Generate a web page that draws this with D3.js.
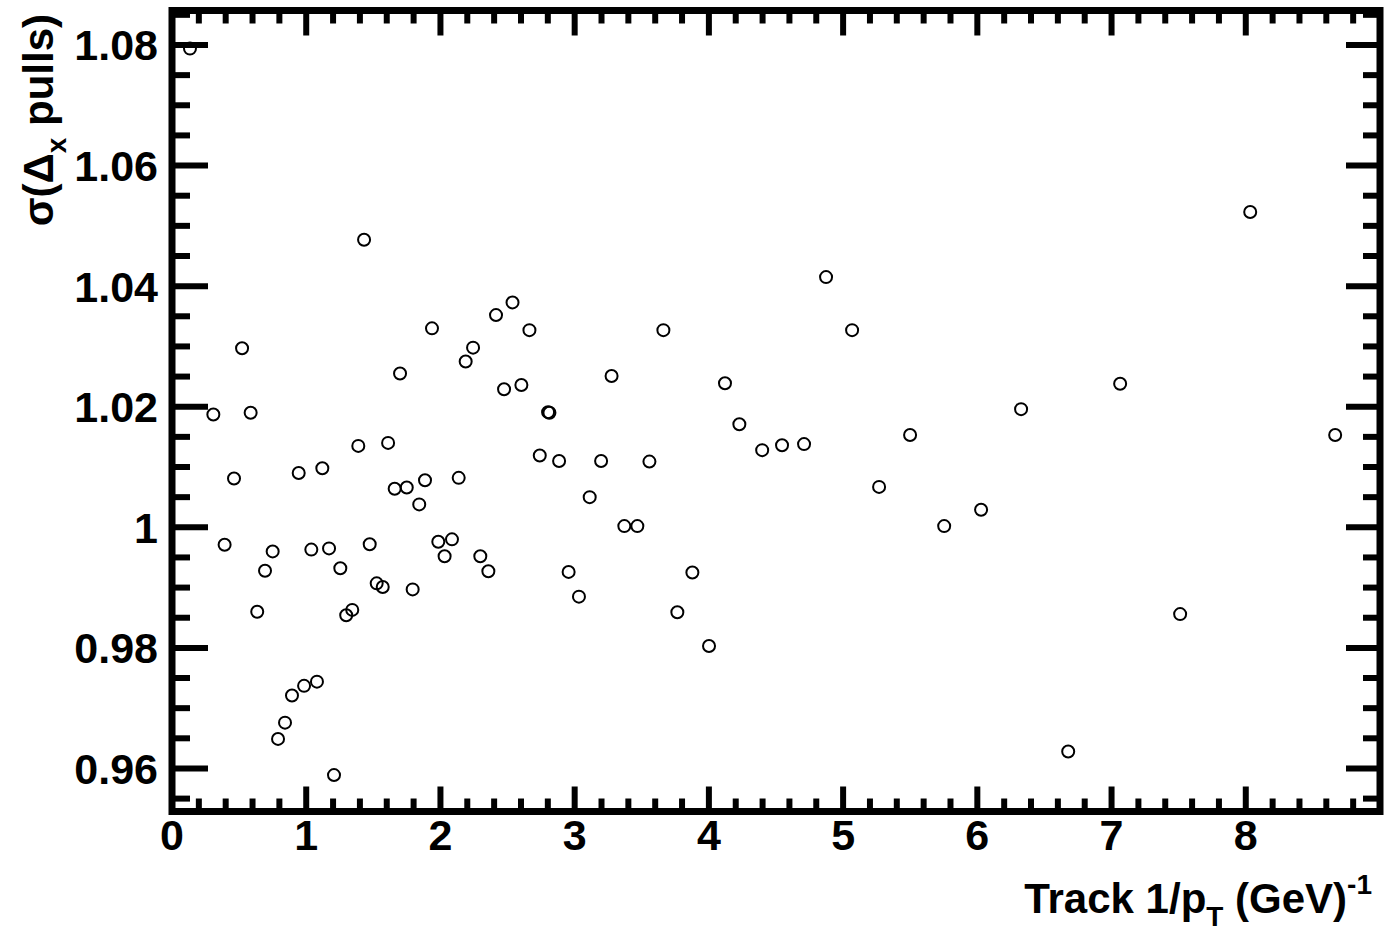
<!DOCTYPE html>
<html>
<head>
<meta charset="utf-8">
<script src="https://cdn.jsdelivr.net/npm/d3@7"></script>
<style>
  body { margin: 0; background: white; }
  svg { display: block; font-family: "Liberation Sans", Arial, sans-serif; font-weight: bold; }
</style>
</head>
<body>
<svg id="chart"></svg>
<script>
// track 1/pT bin centres
var xValues = [0.134, 0.308, 0.392, 0.462, 0.522, 0.586, 0.635, 0.693, 0.750, 0.790,
  0.842, 0.894, 0.944, 0.984, 1.038, 1.080, 1.120, 1.170, 1.207, 1.254,
  1.298, 1.343, 1.388, 1.431, 1.473, 1.525, 1.570, 1.610, 1.659, 1.699,
  1.749, 1.793, 1.842, 1.885, 1.937, 1.984, 2.031, 2.086, 2.136, 2.188,
  2.243, 2.297, 2.357, 2.414, 2.474, 2.537, 2.603, 2.663, 2.740, 2.802,
  2.812, 2.884, 2.955, 3.032, 3.112, 3.197, 3.275, 3.370, 3.467, 3.557,
  3.661, 3.765, 3.877, 4.001, 4.120, 4.227, 4.397, 4.545, 4.709, 4.873,
  5.067, 5.268, 5.499, 5.753, 6.028, 6.326, 6.677, 7.064, 7.511, 8.033,
  8.666];
// sigma of the pull distributions
var sigmaValues = [1.0794, 1.0187, 0.9971, 1.0081, 1.0297, 1.0190, 0.9860, 0.9928, 0.9960, 0.9649,
  0.9676, 0.9721, 1.0090, 0.9737, 0.9963, 0.9744, 1.0098, 0.9965, 0.9589, 0.9932,
  0.9854, 0.9863, 1.0135, 1.0477, 0.9972, 0.9907, 0.9901, 1.0140, 1.0064, 1.0255,
  1.0066, 0.9897, 1.0038, 1.0078, 1.0330, 0.9976, 0.9952, 0.9980, 1.0082, 1.0275,
  1.0298, 0.9952, 0.9927, 1.0352, 1.0229, 1.0373, 1.0236, 1.0327, 1.0119, 1.0191,
  1.0190, 1.0110, 0.9926, 0.9885, 1.0050, 1.0110, 1.0251, 1.0002, 1.0002, 1.0109,
  1.0327, 0.9859, 0.9925, 0.9803, 1.0239, 1.0171, 1.0128, 1.0136, 1.0138, 1.0415,
  1.0327, 1.0067, 1.0153, 1.0002, 1.0029, 1.0196, 0.9628, 1.0238, 0.9856, 1.0523,
  1.0153];

var xTickLabels = ["0", "1", "2", "3", "4", "5", "6", "7", "8"];
var yTickLabels = ["0.96", "0.98", "1", "1.02", "1.04", "1.06", "1.08"];

var width = 1387, height = 931;
var padLeft = 172, padRight = 1380, padTop = 10.5, padBottom = 811.5;

var svg = d3.select("#chart").attr("width", width).attr("height", height);

var x = d3.scaleLinear().domain([0, 9]).range([padLeft, padRight]);
var y = d3.scaleLinear().domain([0.95286, 1.08572]).range([padBottom, padTop]);

var xMinor = d3.range(0, 45).map(function(i){ return i * 0.2; }).filter(function(v){ return Math.abs(v - Math.round(v)) > 1e-6; });
var yMinor = d3.range(0, 27).map(function(i){ return 0.955 + i * 0.005; })
  .filter(function(v){ return v < 1.0857 && Math.abs(v * 50 - Math.round(v * 50)) > 1e-6; });

var ticks = svg.append("g").attr("stroke", "black").attr("stroke-width", 6);

// x ticks, bottom and top
xTickLabels.forEach(function(t){
  var px = x(+t);
  ticks.append("line").attr("x1", px).attr("x2", px).attr("y1", padBottom).attr("y2", padBottom - 25);
  ticks.append("line").attr("x1", px).attr("x2", px).attr("y1", padTop).attr("y2", padTop + 25);
});
xMinor.forEach(function(v){
  var px = x(v);
  ticks.append("line").attr("x1", px).attr("x2", px).attr("y1", padBottom).attr("y2", padBottom - 13);
  ticks.append("line").attr("x1", px).attr("x2", px).attr("y1", padTop).attr("y2", padTop + 13);
});

// y ticks, left and right
yTickLabels.forEach(function(t){
  var py = y(+t);
  ticks.append("line").attr("x1", padLeft).attr("x2", padLeft + 36).attr("y1", py).attr("y2", py);
  ticks.append("line").attr("x1", padRight).attr("x2", padRight - 34).attr("y1", py).attr("y2", py);
});
yMinor.forEach(function(v){
  var py = y(v);
  ticks.append("line").attr("x1", padLeft).attr("x2", padLeft + 18).attr("y1", py).attr("y2", py);
  ticks.append("line").attr("x1", padRight).attr("x2", padRight - 17).attr("y1", py).attr("y2", py);
});

// frame
svg.append("rect")
    .attr("x", padLeft).attr("y", padTop)
    .attr("width", padRight - padLeft).attr("height", padBottom - padTop)
    .attr("fill", "none")
    .attr("stroke", "black")
    .attr("stroke-width", 7);

// tick labels
svg.append("g").selectAll("text").data(xTickLabels).enter().append("text")
    .attr("x", function(d){ return x(+d); })
    .attr("y", 850)
    .attr("text-anchor", "middle")
    .attr("font-size", 43)
    .text(function(d){ return d; });

svg.append("g").selectAll("text").data(yTickLabels).enter().append("text")
    .attr("x", 158)
    .attr("y", function(d){ return y(+d) + 15.5; })
    .attr("text-anchor", "end")
    .attr("font-size", 43)
    .text(function(d){ return d; });

// axis titles
var xt = svg.append("text")
    .attr("x", 1372).attr("y", 913)
    .attr("text-anchor", "end")
    .attr("font-size", 42);
xt.append("tspan").text("Track 1/p");
xt.append("tspan").attr("font-size", 28).attr("dy", 13).text("T");
xt.append("tspan").attr("dy", -13).text(" (GeV)");
xt.append("tspan").attr("font-size", 28).attr("dy", -19).text("-1");

var yt = svg.append("text")
    .attr("transform", "translate(53,14) rotate(-90)")
    .attr("text-anchor", "end")
    .attr("font-size", 42);
yt.append("tspan").text("σ(Δ");
yt.append("tspan").attr("font-size", 28).attr("dy", 13).text("x");
yt.append("tspan").attr("dy", -13).text(" pulls)");

// points
svg.append("g").selectAll("circle").data(xValues).enter().append("circle")
    .attr("cx", function(d){ return x(d); })
    .attr("cy", function(d, i){ return y(sigmaValues[i]); })
    .attr("r", 6)
    .attr("fill", "none")
    .attr("stroke", "black")
    .attr("stroke-width", 2);
</script>
</body>
</html>
